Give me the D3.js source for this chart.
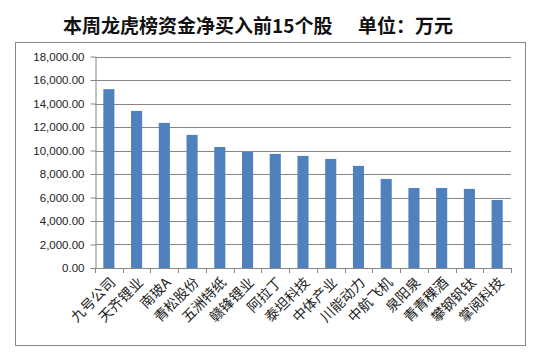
<!DOCTYPE html>
<html>
<head>
<meta charset="utf-8">
<script src="https://cdn.jsdelivr.net/npm/d3@7"></script>
<style>
  body { margin: 0; background: #fff; }
  svg { display: block; }
</style>
</head>
<body>
<svg id="chart" width="542" height="360"></svg>
<script>
// 本周龙虎榜资金净买入前15个股 (万元)
var stocks = ['九号公司', '天齐锂业', '南玻A', '青松股份', '五洲特纸', '赣锋锂业', '阿拉丁', '泰坦科技',
              '中体产业', '川能动力', '中航飞机', '泉阳泉', '青青稞酒', '攀钢钒钛', '掌阅科技'];
var netBuy = [15220, 13370, 12350, 11330, 10300, 9880, 9710, 9540, 9280, 8690, 7580, 6810, 6810, 6730, 5790];
var yTicks = [0, 2000, 4000, 6000, 8000, 10000, 12000, 14000, 16000, 18000];

var svg = d3.select("#chart");
var grey = "#868686";

// chart box
svg.append("rect")
    .attr("x", 15.5).attr("y", 42.5)
    .attr("width", 510).attr("height", 303)
    .attr("fill", "none").attr("stroke", grey);

// title
var title = svg.append("text")
    .attr("y", 33)
    .style("font-family", "'Noto Sans CJK SC', sans-serif")
    .style("font-weight", "bold")
    .style("font-size", "19px")
    .attr("fill", "#111");
title.append("tspan").attr("x", 63).text("本周龙虎榜资金净买入前15个股");
title.append("tspan").attr("x", 358).text("单位：万元");

var plotL = 95, plotR = 511, plotT = 56.5, plotB = 268;

var y = d3.scaleLinear().domain([0, 18000]).range([plotB, plotT]);
var x = d3.scaleBand().domain(stocks).range([plotL, plotR]).paddingInner(0.6).paddingOuter(0.3);

// gridlines
svg.append("g").selectAll("line")
    .data(yTicks.slice(1))
  .enter().append("line")
    .attr("x1", plotL).attr("x2", plotR)
    .attr("y1", d => Math.round(y(d)) + 0.5)
    .attr("y2", d => Math.round(y(d)) + 0.5)
    .attr("stroke", grey);

// y axis
var yAxis = svg.append("g")
    .attr("transform", "translate(" + (plotL + 0.5) + ",0)")
    .call(d3.axisLeft(y).tickValues(yTicks).tickSize(5).tickSizeOuter(0).tickPadding(6)
        .tickFormat(d3.format(",.2f")));
yAxis.select(".domain").attr("stroke", grey);
yAxis.selectAll(".tick line").attr("stroke", grey);
yAxis.selectAll(".tick text")
    .style("font-family", "'Liberation Sans', Arial, sans-serif")
    .style("font-size", "11.5px")
    .attr("fill", "#222");

// bars
svg.append("g").selectAll("rect")
    .data(netBuy)
  .enter().append("rect")
    .attr("x", (d, i) => x(stocks[i]))
    .attr("width", x.bandwidth())
    .attr("y", d => y(d))
    .attr("height", d => y(0) - y(d))
    .attr("fill", "#4F81BD");

// x axis: ticks on category boundaries
var step = x.step();
var xa = svg.append("g");
xa.append("line")
    .attr("x1", plotL).attr("x2", plotR)
    .attr("y1", plotB + 0.5).attr("y2", plotB + 0.5)
    .attr("stroke", grey);
xa.selectAll("line.tk")
    .data(d3.range(stocks.length + 1))
  .enter().append("line")
    .attr("class", "tk")
    .attr("x1", i => Math.round(plotL + i * step) + 0.5)
    .attr("x2", i => Math.round(plotL + i * step) + 0.5)
    .attr("y1", plotB).attr("y2", plotB + 5)
    .attr("stroke", grey);

xa.selectAll("text")
    .data(stocks)
  .enter().append("text")
    .attr("transform", d => "translate(" + (x(d) + x.bandwidth() / 2 + 4) + "," + (plotB + 12) + ") rotate(-45)")
    .attr("text-anchor", "end")
    .attr("dy", "0.35em")
    .style("font-family", "'Noto Sans CJK SC', sans-serif")
    .style("font-size", "14px")
    .attr("fill", "#222")
    .text(d => d);
</script>
</body>
</html>
